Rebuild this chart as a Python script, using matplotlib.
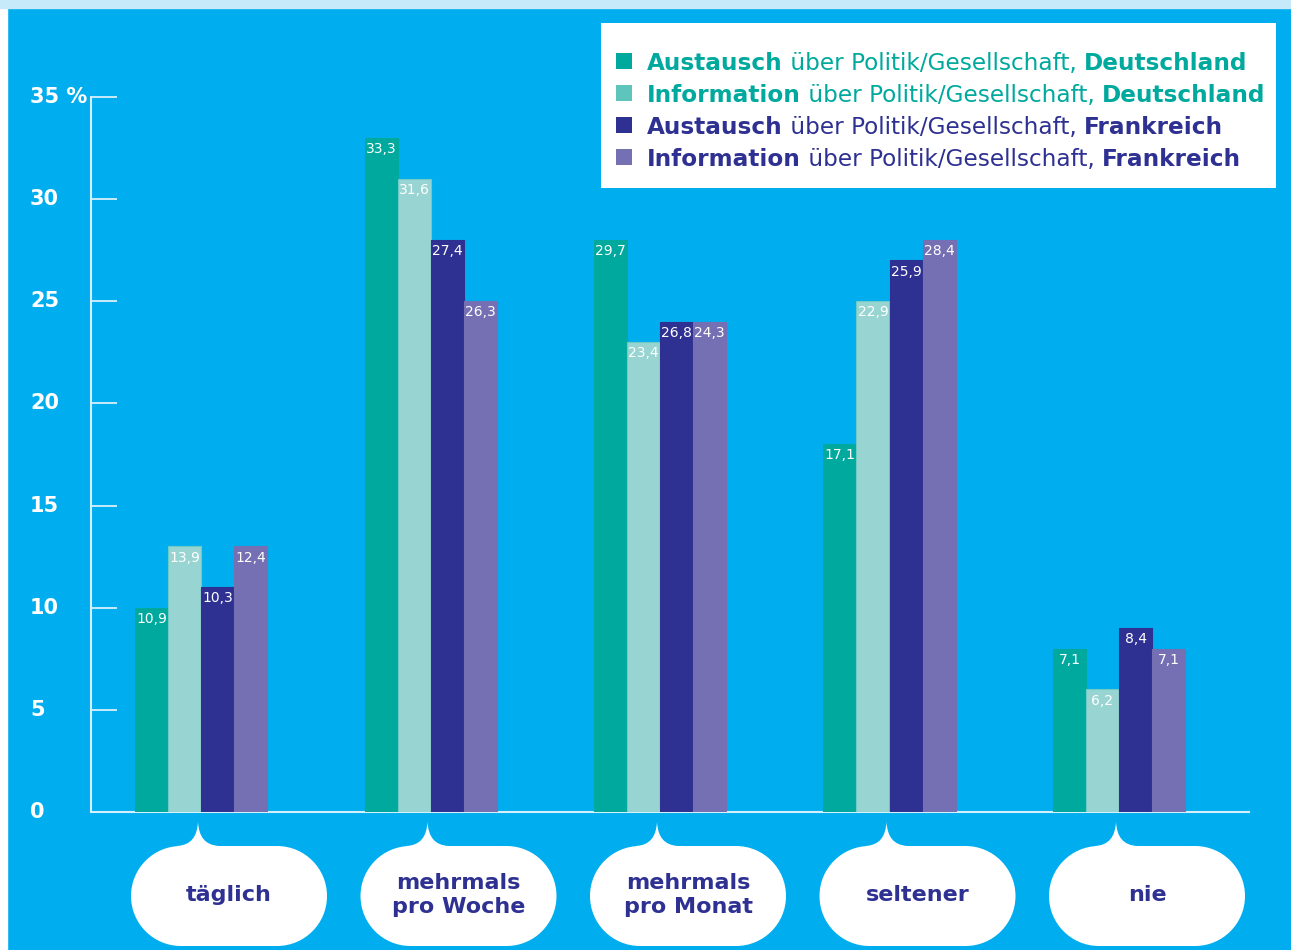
import matplotlib
matplotlib.use("Agg")
import matplotlib.pyplot as plt
from matplotlib.patches import Rectangle, PathPatch
from matplotlib.path import Path
import numpy as np

# Daten (Balkenhöhen wie im Bild gezeichnet, Beschriftungen wie im Bild)
kategorien = ["täglich", "mehrmals\npro Woche", "mehrmals\npro Monat", "seltener", "nie"]
aus_de = [10, 33, 28, 18, 8]
inf_de = [13, 31, 23, 25, 6]
aus_fr = [11, 28, 24, 27, 9]
inf_fr = [13, 25, 24, 28, 8]
lab_aus_de = ["10,9", "33,3", "29,7", "17,1", "7,1"]
lab_inf_de = ["13,9", "31,6", "23,4", "22,9", "6,2"]
lab_aus_fr = ["10,3", "27,4", "26,8", "25,9", "8,4"]
lab_inf_fr = ["12,4", "26,3", "24,3", "28,4", "7,1"]
yticks = [0, 5, 10, 15, 20, 25, 30, 35]
ytick_labels = ["0", "5", "10", "15", "20", "25", "30", "35 %"]

legend_rows = [
    ("Austausch", " über Politik/Gesellschaft, ", "Deutschland"),
    ("Information", " über Politik/Gesellschaft, ", "Deutschland"),
    ("Austausch", " über Politik/Gesellschaft, ", "Frankreich"),
    ("Information", " über Politik/Gesellschaft, ", "Frankreich"),
]

BG = "#00AEEF"
GREEN = "#00A99D"
LTEAL = "#98D5D2"
DBLUE = "#2E3192"
PURPLE = "#7570B3"
series = [aus_de, inf_de, aus_fr, inf_fr]
labels = [lab_aus_de, lab_inf_de, lab_aus_fr, lab_inf_fr]
colors = [GREEN, LTEAL, DBLUE, PURPLE]
legend_sq = [GREEN, "#5EC5BC", DBLUE, PURPLE]
legend_txt = [GREEN, GREEN, DBLUE, DBLUE]

plt.rcParams['font.family'] = ['DejaVu Sans']


def blase(bx0, by0, bx1, by1, rx=50, ry=50):
    # abgerundete Blase mit kubischen Kreisbögen
    k = 0.5523
    M, C, L = Path.MOVETO, Path.CURVE4, Path.LINETO
    v = [(bx0 + rx, by1), (bx1 - rx, by1),
         (bx1 - rx + k * rx, by1), (bx1, by1 - ry + k * ry), (bx1, by1 - ry),
         (bx1, by0 + ry),
         (bx1, by0 + ry - k * ry), (bx1 - rx + k * rx, by0), (bx1 - rx, by0),
         (bx0 + rx, by0),
         (bx0 + rx - k * rx, by0), (bx0, by0 + ry - k * ry), (bx0, by0 + ry),
         (bx0, by1 - ry),
         (bx0, by1 - ry + k * ry), (bx0 + rx - k * rx, by1), (bx0 + rx, by1),
         (bx0 + rx, by1)]
    c = [M, L, C, C, C, L, C, C, C, L, C, C, C, L, C, C, C, Path.CLOSEPOLY]
    return Path(v, c)


def spitze(apx, apy, base):
    C = Path.CURVE4
    v = [(apx - 21, base - 10), (apx - 21, base), (apx - 7, base + 1), (apx - 1, base + 9),
         (apx, apy), (apx + 1, base + 9), (apx + 7, base + 1), (apx + 21, base),
         (apx + 21, base - 10), (apx - 21, base - 10)]
    c = [Path.MOVETO, Path.LINETO, C, C, C, C, C, C, Path.LINETO, Path.CLOSEPOLY]
    return Path(v, c)


W, H = 1291, 950
fig = plt.figure(figsize=(W / 100, H / 100), dpi=100, facecolor=BG)

# Hintergrund-Achse in Pixeln (y von unten)
bg = fig.add_axes([0, 0, 1, 1])
bg.set_xlim(0, W)
bg.set_ylim(0, H)
bg.axis("off")
bg.add_patch(Rectangle((0, 0), 7, H, color="white", zorder=0))
bg.add_patch(Rectangle((0, H - 8), W, 8, color="#C7EAFB", zorder=0))

# Hauptachse
x0, x1 = 91, 1249
y0, y1 = 812, 97
ax = fig.add_axes([x0 / W, 1 - y0 / H, (x1 - x0) / W, (y0 - y1) / H])
ax.set_facecolor("none")
step = 229.5
ax.set_xlim((x0 - 201) / step, (x1 - 201) / step)
ax.set_ylim(0, 35)

x = np.arange(len(kategorien))
w = 33 / step
for k, (vals, labs, c) in enumerate(zip(series, labels, colors)):
    pos = x + (k - 1.5) * w
    ec = "#6FCBC5" if c == LTEAL else c
    ax.bar(pos, vals, width=w, color=c, edgecolor=ec, linewidth=0.8, zorder=3)
    for xp, v, t in zip(pos, vals, labs):
        ax.annotate(t, (xp, v), xytext=(0, -3), textcoords="offset points",
                    ha="center", va="top", color="white", fontsize=10, zorder=4)

for s in ["top", "right"]:
    ax.spines[s].set_visible(False)
ax.spines["left"].set_color("#D6F0FB")
ax.spines["bottom"].set_color("#D6F0FB")
ax.spines["left"].set_linewidth(1.5)
ax.spines["bottom"].set_linewidth(1.5)
ax.set_xticks([])
ax.set_yticks(yticks)
ax.set_yticklabels([])
ax.tick_params(axis="y", direction="in", length=19, width=1.3, color="#D6F0FB")
for t, l in zip(yticks, ytick_labels):
    ax.text(30 / W, t, l, transform=matplotlib.transforms.blended_transform_factory(fig.transFigure, ax.transData),
            ha="left", va="center", color="white", fontsize=15, fontweight="bold")

# Sprechblasen unter den Kategorien
for i, kat in enumerate(kategorien):
    gx = ax.transData.transform((i, 0))[0]
    bx0, bx1 = gx - 70, gx + 126
    by0, by1 = H - 946, H - 846
    bg.add_patch(PathPatch(blase(bx0, by0, bx1, by1), fc="white", ec="none", zorder=2))
    bg.add_patch(PathPatch(spitze(gx - 3, H - 822, by1), fc="white", ec="none", zorder=2))
    bg.text((bx0 + bx1) / 2, (by0 + by1) / 2 + 1, kat, ha="center", va="center",
            color=DBLUE, fontsize=16, fontweight="bold", linespacing=1.25, zorder=3)

# Legende
bg.add_patch(Rectangle((601, H - 188), 1276 - 601, 188 - 23, fc="white", ec="none", zorder=2))
fig.canvas.draw()
renderer = fig.canvas.get_renderer()
row_y = [61, 93, 125, 157]
for r, (a, b, c) in enumerate(legend_rows):
    yy = H - row_y[r]
    bg.add_patch(Rectangle((616, yy - 8), 16, 16, fc=legend_sq[r], ec="none", zorder=3))
    xx = 647
    for txt, fw in [(a, "bold"), (b, "normal"), (c, "bold")]:
        t = bg.text(xx, yy, txt, ha="left", va="center_baseline", color=legend_txt[r],
                    fontsize=16.7, fontweight=fw, zorder=3)
        bb = t.get_window_extent(renderer=renderer)
        xx += bb.width

fig.savefig("out.png", dpi=100, facecolor=BG)
